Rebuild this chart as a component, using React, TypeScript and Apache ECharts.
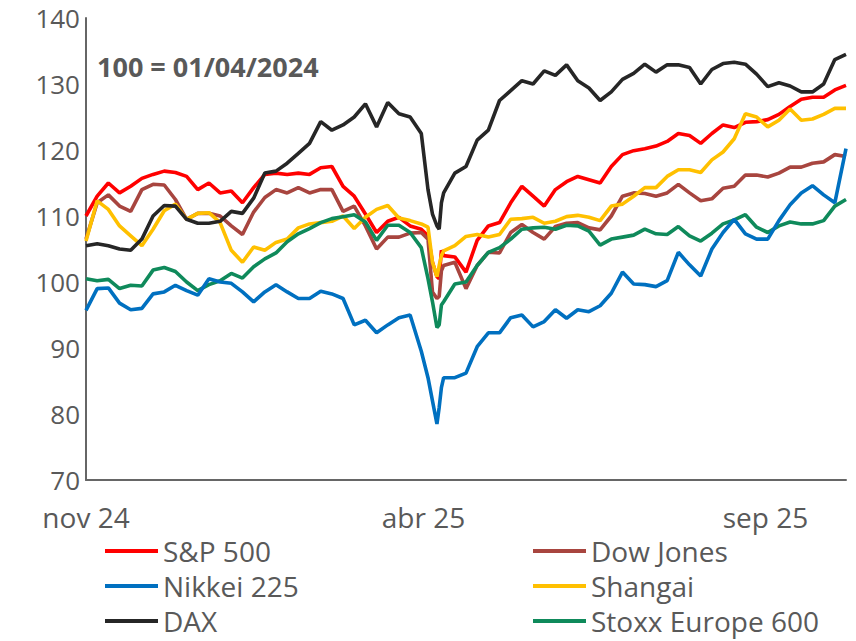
import React, { useEffect, useRef } from "react";
import * as echarts from "echarts";

const dates = [
  "2024-11-01", "2024-11-06", "2024-11-11", "2024-11-16", "2024-11-21", "2024-11-26",
  "2024-12-01", "2024-12-06", "2024-12-11", "2024-12-16", "2024-12-21", "2024-12-26", "2024-12-31",
  "2025-01-05", "2025-01-10", "2025-01-15", "2025-01-20", "2025-01-25", "2025-01-30",
  "2025-02-04", "2025-02-09", "2025-02-14", "2025-02-19", "2025-02-24",
  "2025-03-01", "2025-03-06", "2025-03-11", "2025-03-16", "2025-03-21", "2025-03-26", "2025-03-31",
  "2025-04-03", "2025-04-05", "2025-04-07", "2025-04-08", "2025-04-09", "2025-04-10",
  "2025-04-15", "2025-04-20", "2025-04-25", "2025-04-30",
  "2025-05-05", "2025-05-10", "2025-05-15", "2025-05-20", "2025-05-25", "2025-05-30",
  "2025-06-04", "2025-06-09", "2025-06-14", "2025-06-19", "2025-06-24", "2025-06-29",
  "2025-07-04", "2025-07-09", "2025-07-14", "2025-07-19", "2025-07-24", "2025-07-29",
  "2025-08-03", "2025-08-08", "2025-08-13", "2025-08-18", "2025-08-23", "2025-08-28",
  "2025-09-02", "2025-09-07", "2025-09-12", "2025-09-17", "2025-09-22", "2025-09-27",
  "2025-10-02", "2025-10-07",
];

const sp500 = [
  110, 113, 115, 113.5, 114.5, 115.7, 116.3, 116.8, 116.6, 116, 114, 115, 113.5,
  113.8, 112, 114.3, 116.3, 116.5, 116.3, 116.5, 116.3, 117.3, 117.5, 114.5,
  113, 110.3, 107.5, 109.2, 109.8, 108.5, 108,
  107, 103, 100.8, 100.5, 104.8, 104,
  103.8, 101.5, 106.3, 108.5, 109, 112, 114.5, 113, 111.5, 114,
  115.2, 116, 115.5, 115, 117.5, 119.3, 119.9, 120.2, 120.6, 121.3, 122.5, 122.2,
  121, 122.5, 123.8, 123.4, 124.2, 124.3, 124.6, 125.4, 126.6, 127.7, 128, 128, 129.1, 129.8,
];

const dowJones = [
  106.5, 112, 113.2, 111.5, 110.7, 114, 114.8, 114.7, 112.5, 109.5, 110.4, 110.4, 110,
  108.5, 107.2, 110.6, 112.8, 114, 113.5, 114.3, 113.5, 114, 114, 110.7,
  111.5, 108.5, 105, 106.8, 106.8, 107.4, 107.5,
  106.5, 98.5, 97.5, 97.8, 101.7, 102.5,
  103, 99, 102.5, 104.5, 104.4, 107.5, 108.7, 107.5, 106.5, 108.4,
  108.9, 109, 108.2, 107.9, 110, 113, 113.5, 113.4, 113, 113.5, 114.8, 113.5,
  112.3, 112.6, 114.2, 114.5, 116.2, 116.2, 115.9, 116.5, 117.4, 117.4, 118, 118.2, 119.3, 119,
];

const nikkei = [
  95.7, 99, 99.1, 96.8, 95.8, 96, 98.2, 98.5, 99.5, 98.7, 98, 100.5, 100,
  99.8, 98.5, 97, 98.5, 99.6, 98.5, 97.5, 97.5, 98.6, 98.2, 97.5,
  93.5, 94.2, 92.3, 93.5, 94.6, 95, 89.5,
  85.5, 82, 78.5, 81, 84, 85.5,
  85.5, 86.2, 90.2, 92.3, 92.3, 94.6, 95, 93.2, 94, 95.8,
  94.5, 95.8, 95.5, 96.4, 98.3, 101.5, 99.7, 99.6, 99.3, 100.2, 104.5, 102.6,
  100.9, 105, 107.5, 109.5, 107.3, 106.5, 106.5, 109.3, 111.7, 113.5, 114.6, 113.2, 112, 120.2,
];

const shangai = [
  106.2, 112.3, 111, 108.5, 107, 105.5, 108, 110.8, 111.8, 109.5, 110.4, 110.5, 109,
  104.8, 103, 105.3, 104.8, 106, 106.5, 108.2, 108.8, 109, 109.2, 110,
  108.1, 109.8, 111, 111.6, 109.7, 109.3, 108.8,
  108.3, 103, 100.8, 102.5, 104, 104.7,
  105.5, 106.9, 107.2, 106.8, 107.2, 109.5, 109.6, 109.8, 108.9, 109.2,
  109.9, 110.1, 109.8, 109.3, 111.5, 111.8, 113, 114.3, 114.3, 116, 117, 117,
  116.6, 118.5, 119.7, 121.7, 125.5, 125, 123.5, 124.5, 126.2, 124.5, 124.7, 125.4, 126.3, 126.3,
];

const dax = [
  105.5, 105.8, 105.5, 105, 104.8, 106.5, 110, 111.6, 111.5, 109.5, 108.9, 108.9, 109.2,
  110.7, 110.4, 112.7, 116.5, 116.8, 118, 119.5, 121, 124.3, 123, 123.8,
  125, 127, 123.5, 127.2, 125.5, 125, 122.5,
  114, 110.3, 108.5, 108, 112, 113.5,
  116.5, 117.5, 121.5, 123, 127.5, 129, 130.5, 130, 132, 131.3,
  132.9, 130.5, 129.4, 127.5, 128.8, 130.7, 131.6, 133, 131.8, 132.9, 132.9, 132.5,
  130, 132.2, 133.1, 133.3, 133, 131.5, 129.6, 130.2, 129.7, 128.8, 128.8, 130, 133.7, 134.5,
];

const stoxx600 = [
  100.5, 100.2, 100.4, 99, 99.5, 99.4, 101.8, 102.2, 101.6, 100, 98.7, 99.6, 100.2,
  101.3, 100.6, 102.3, 103.5, 104.4, 106.1, 107.3, 108.1, 109, 109.6, 109.9,
  110.2, 109.1, 106.3, 108.6, 108.6, 107.5, 105.2,
  100.5, 97, 93.1, 93.5, 96.5, 97,
  99.7, 100, 102.5, 104.5, 105.2, 106.5, 108, 108.2, 108.3, 108,
  108.6, 108.5, 107.7, 105.6, 106.5, 106.8, 107.1, 108, 107.3, 107.2, 108.4, 107,
  106.2, 107.4, 108.8, 109.4, 110.2, 108.3, 107.5, 108.5, 109.1, 108.8, 108.8, 109.3, 111.5, 112.5,
];

const tickDates = ["2024-11-01", "2025-04-01", "2025-09-01"];
const tickLabels = ["nov 24", "abr 25", "sep 25"];
const axisStart = "2024-11-01";
const axisEnd = "2025-10-07";

const seriesNames = ["S&P 500", "Dow Jones", "Nikkei 225", "Shangai", "DAX", "Stoxx Europe 600"];
const seriesColors = ["#FF0000", "#A8453F", "#0070C0", "#FFC000", "#262626", "#0F8A5B"];
const seriesValues = [sp500, dowJones, nikkei, shangai, dax, stoxx600];
const drawOrder = [0, 1, 3, 5, 2, 4];

const baseNote = "100 = 01/04/2024";

const ts = (s: string) => {
  const [y, m, d] = s.split("-").map(Number);
  return Date.UTC(y, m - 1, d);
};

const FONT = "'Open Sans', sans-serif";
const GRAY = "#595959";

export default function App() {
  const ref = useRef<HTMLDivElement>(null);

  useEffect(() => {
    if (!ref.current) return;
    const chart = echarts.init(ref.current, undefined, { renderer: "svg" });
    const tickTs = tickDates.map(ts);

    const series = drawOrder.map((i) => ({
      name: seriesNames[i],
      type: "line",
      data: dates.map((d, j) => [ts(d), seriesValues[i][j]]),
      symbol: "none",
      showSymbol: false,
      lineStyle: { width: 3.6, color: seriesColors[i] },
      itemStyle: { color: seriesColors[i] },
      z: 2,
    }));

    const legendCommon = {
      orient: "vertical",
      icon: "rect",
      itemWidth: 53,
      itemHeight: 4,
      itemGap: 5,
      padding: 0,
      top: 536,
      textStyle: { fontFamily: FONT, fontSize: 28, color: GRAY, lineHeight: 30 },
    };

    chart.setOption({
      animation: false,
      textStyle: { fontFamily: FONT },
      grid: { left: 86, right: 10, top: 18, bottom: 161, containLabel: false },
      xAxis: {
        type: "value",
        min: ts(axisStart),
        max: ts(axisEnd),
        axisLine: { show: true, lineStyle: { color: "#666666", width: 2 } },
        axisTick: { show: false },
        splitLine: { show: false },
        axisLabel: {
          customValues: tickTs,
          formatter: (v: number) => {
            const idx = tickTs.findIndex((t) => Math.abs(t - v) < 86400000);
            return idx >= 0 ? tickLabels[idx] : "";
          },
          fontFamily: FONT,
          fontSize: 28,
          lineHeight: 28,
          color: GRAY,
          margin: 23,
          hideOverlap: false,
        },
      },
      yAxis: {
        type: "value",
        min: 70,
        max: 140,
        interval: 10,
        axisLine: { show: true, lineStyle: { color: "#666666", width: 2 } },
        axisTick: { show: false },
        splitLine: { show: false },
        axisLabel: { fontFamily: FONT, fontSize: 26, lineHeight: 22, color: GRAY, margin: 6 },
      },
      legend: [
        { ...legendCommon, left: 105, data: [seriesNames[0], seriesNames[2], seriesNames[4]] },
        { ...legendCommon, left: 533, data: [seriesNames[1], seriesNames[3], seriesNames[5]] },
      ],
      graphic: [
        {
          type: "text",
          left: 97,
          top: 53,
          style: {
            text: baseNote,
            fill: GRAY,
            font: `bold 27px ${FONT}`,
          },
        },
      ],
      series,
    });

    return () => chart.dispose();
  }, []);

  return (
    <div
      ref={ref}
      style={{ position: "fixed", left: 0, top: 0, width: 856, height: 641, background: "#fff" }}
    />
  );
}
